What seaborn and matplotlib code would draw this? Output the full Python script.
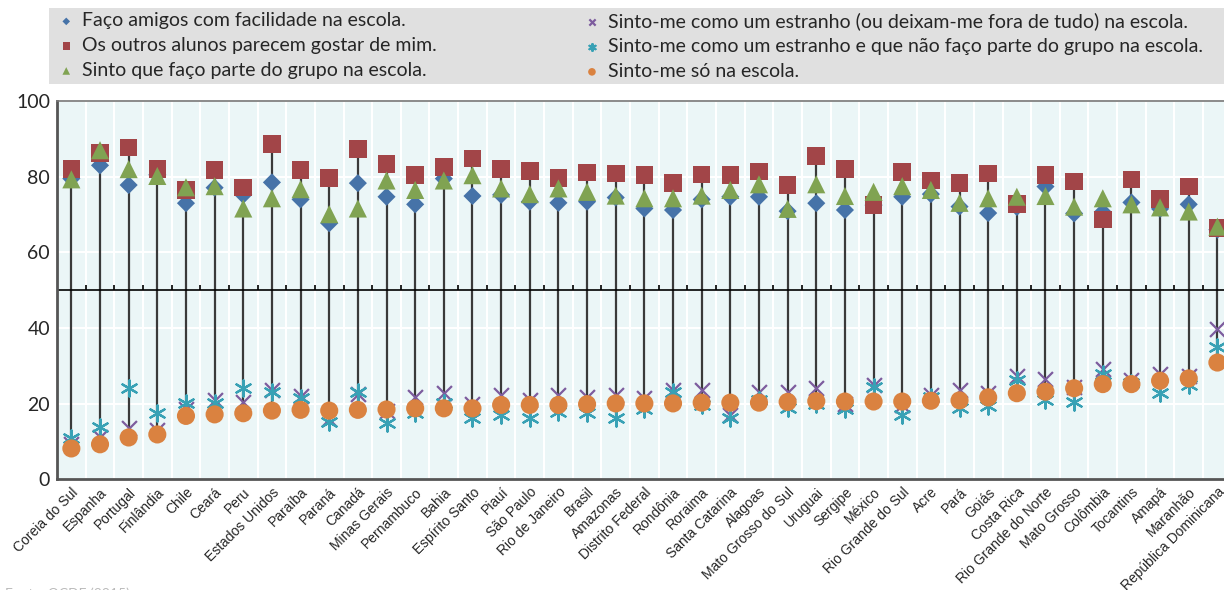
import pandas as pd
import matplotlib
matplotlib.use("Agg")
import matplotlib.pyplot as plt
import matplotlib.patches as mpatches
import seaborn as sns

sns.set_style("white")
plt.rcParams["font.family"] = ["Lato", "DejaVu Sans"]

paises = ["Coreia do Sul", "Espanha", "Portugal", "Finlândia", "Chile", "Ceará", "Peru",
          "Estados Unidos", "Paraíba", "Paraná", "Canadá", "Minas Gerais", "Pernambuco",
          "Bahia", "Espírito Santo", "Piauí", "São Paulo", "Rio de Janeiro", "Brasil",
          "Amazonas", "Distrito Federal", "Rondônia", "Roraima", "Santa Catarina", "Alagoas",
          "Mato Grosso do Sul", "Uruguai", "Sergipe", "México", "Rio Grande do Sul", "Acre",
          "Pará", "Goiás", "Costa Rica", "Rio Grande do Norte", "Mato Grosso", "Colômbia",
          "Tocantins", "Amapá", "Maranhão", "República Dominicana"]

amigos = [79.5, 83.0, 77.8, 80.5, 73.0, 77.1, 75.2, 78.5, 74.0, 67.7, 78.3, 74.7, 72.7,
          79.5, 74.9, 75.2, 73.4, 73.1, 73.4, 74.5, 71.6, 71.2, 74.0, 74.7, 74.7,
          70.9, 73.0, 71.2, 72.5, 74.7, 75.4, 72.1, 70.4, 72.0, 77.4, 70.3, 70.7,
          73.2, 71.5, 72.7, 66.0]
gostar = [82.0, 86.2, 87.7, 82.0, 76.5, 81.8, 77.2, 88.6, 81.8, 79.7, 87.3, 83.4, 80.4,
          82.6, 84.8, 82.1, 81.5, 79.6, 81.1, 80.8, 80.4, 78.4, 80.6, 80.4, 81.4,
          77.8, 85.4, 82.0, 72.5, 81.3, 79.0, 78.4, 80.8, 72.8, 80.4, 78.7, 68.7,
          79.3, 74.1, 77.4, 66.4]
grupo = [79.3, 87.0, 82.0, 80.2, 77.2, 77.5, 71.6, 74.3, 76.7, 70.1, 71.6, 79.0, 76.5,
         79.0, 80.4, 76.9, 75.4, 76.9, 76.0, 75.0, 74.3, 74.3, 75.0, 76.5, 78.0,
         71.5, 78.0, 74.9, 76.0, 77.5, 76.5, 73.1, 74.3, 74.7, 74.9, 72.1, 74.3,
         72.7, 71.9, 70.8, 66.8]
estranho_fora = [9.5, 11.3, 13.5, 13.0, 18.5, 21.0, 20.6, 23.6, 22.0, 16.0, 22.6, 18.0, 21.8,
                 22.8, 20.0, 22.3, 21.0, 22.3, 21.8, 22.3, 21.4, 23.6, 23.6, 17.0, 23.2,
                 23.2, 24.3, 20.0, 24.9, 19.7, 22.3, 23.6, 22.8, 27.3, 26.5, 24.5, 29.1,
                 26.3, 28.0, 27.3, 39.7]
estranho_grupo = [10.9, 14.0, 24.3, 17.5, 20.1, 20.1, 24.1, 23.2, 21.5, 15.3, 23.2, 14.8, 17.5,
                  20.1, 16.2, 17.0, 16.2, 17.9, 17.5, 16.2, 18.5, 23.0, 19.7, 16.2, 21.0,
                  19.0, 20.0, 18.5, 24.5, 17.0, 21.8, 18.8, 19.3, 26.3, 21.0, 20.6, 28.0,
                  25.5, 22.8, 25.0, 34.9]
so = [8.2, 9.3, 11.1, 11.9, 16.8, 17.2, 17.5, 18.2, 18.4, 18.2, 18.4, 18.5, 18.8,
      18.8, 18.8, 19.7, 19.7, 19.7, 19.9, 20.1, 20.1, 20.1, 20.3, 20.3, 20.3,
      20.5, 20.7, 20.6, 20.6, 20.6, 20.8, 20.9, 21.7, 22.8, 23.2, 24.1, 25.2,
      25.2, 26.1, 26.7, 30.9]

rotulos = ["Faço amigos com facilidade na escola.",
           "Os outros alunos parecem gostar de mim.",
           "Sinto que faço parte do grupo na escola.",
           "Sinto-me como um estranho (ou deixam-me fora de tudo) na escola.",
           "Sinto-me como um estranho e que não faço parte do grupo na escola.",
           "Sinto-me só na escola."]
series = [amigos, gostar, grupo, estranho_fora, estranho_grupo, so]
cores = ["#4673A8", "#A24548", "#80A352", "#7D5C9E", "#38A1B5", "#DA8240"]
marcadores = ["D", "s", "^", "x", (6, 2, 0), "o"]
tamanhos = [85, 160, 170, 115, 135, 170]
ordem_z = [3, 4, 5, 6, 7, 8]

df = pd.DataFrame({"pais": paises * 6,
                   "serie": [r for r in rotulos for _ in paises],
                   "valor": [v for s in series for v in s]})

fig = plt.figure(figsize=(12.24, 5.90), dpi=100)
ax = fig.add_axes([0.0466, 0.1873, 0.9597, 0.6415])
ax.set_facecolor("#EBF6F7")

# linhas verticais entre o mínimo e o máximo de cada país
wide = pd.DataFrame(dict(zip(rotulos, series)), index=paises)
ax.vlines(range(len(paises)), wide.min(axis=1), wide.max(axis=1),
          color="#3a3a3a", lw=1.6, zorder=2)

for rot, cor, mk, tam, z in zip(rotulos, cores, marcadores, tamanhos, ordem_z):
    sub = df[df["serie"] == rot]
    if mk in ("x", (6, 2, 0)):
        sns.scatterplot(data=sub, x="pais", y="valor", marker=mk, color=cor, s=tam,
                        linewidth=1.6, label=rot, ax=ax, zorder=z)
    else:
        sns.scatterplot(data=sub, x="pais", y="valor", marker=mk, color=cor, s=tam,
                        linewidth=0, edgecolor="none", label=rot, ax=ax, zorder=z)

handles, labels = ax.get_legend_handles_labels()
if ax.get_legend() is not None:
    ax.get_legend().remove()

ax.set_xlim(-0.5, len(paises) - 0.5)
ax.set_ylim(0, 100)
ax.set_yticks([0, 20, 40, 60, 80, 100])
ax.set_xticks(range(len(paises)))
ax.set_xticklabels(paises, rotation=45, ha="right", rotation_mode="anchor",
                   family=["Liberation Sans", "DejaVu Sans"], fontsize=10)
ax.set_xticks([i + 0.5 for i in range(len(paises) - 1)], minor=True)
ax.set_xlabel("")
ax.set_ylabel("")

ax.grid(axis="y", which="major", color="white", lw=1.5, zorder=0)
ax.grid(axis="x", which="minor", color="white", lw=1.5, zorder=0)
ax.set_axisbelow(True)

ax.tick_params(axis="y", labelsize=14, direction="in", length=4, width=1, color="#333333", pad=5)
ax.tick_params(axis="x", which="major", length=0, pad=4)
ax.tick_params(axis="x", which="minor", length=0)

# linha horizontal em 50 com pequenas marcas
ax.axhline(50, color="black", lw=1.2, zorder=2.5)
ax.vlines([i + 0.5 for i in range(len(paises) - 1)], 50, 51.4, color="black", lw=1.2, zorder=2.5)

for lado in ["left", "bottom"]:
    ax.spines[lado].set_color("#555555")
    ax.spines[lado].set_linewidth(2)
ax.spines["top"].set_color("#777777")
ax.spines["top"].set_linewidth(1.2)
ax.spines["right"].set_visible(False)

# caixa da legenda
fig.patches.append(mpatches.Rectangle((0.040, 0.857), 0.96, 0.129, transform=fig.transFigure,
                                      facecolor="#E0E0E0", edgecolor="none", zorder=0))
estilo_leg = dict(loc="upper left", frameon=False, fontsize=14, markerscale=0.42,
                  handlelength=0.6, handletextpad=0.5, labelspacing=0.4, borderaxespad=0)
fig.legend(handles[:3], labels[:3], bbox_to_anchor=(0.043, 0.992), **estilo_leg)
fig.legend(handles[3:], labels[3:], bbox_to_anchor=(0.4725, 0.992), **estilo_leg)

fig.text(0.004, 0.005, "Fonte: OCDE (2015).", fontsize=10, color="#bbbbbb", va="top")

fig.savefig("out.png", dpi=100)
